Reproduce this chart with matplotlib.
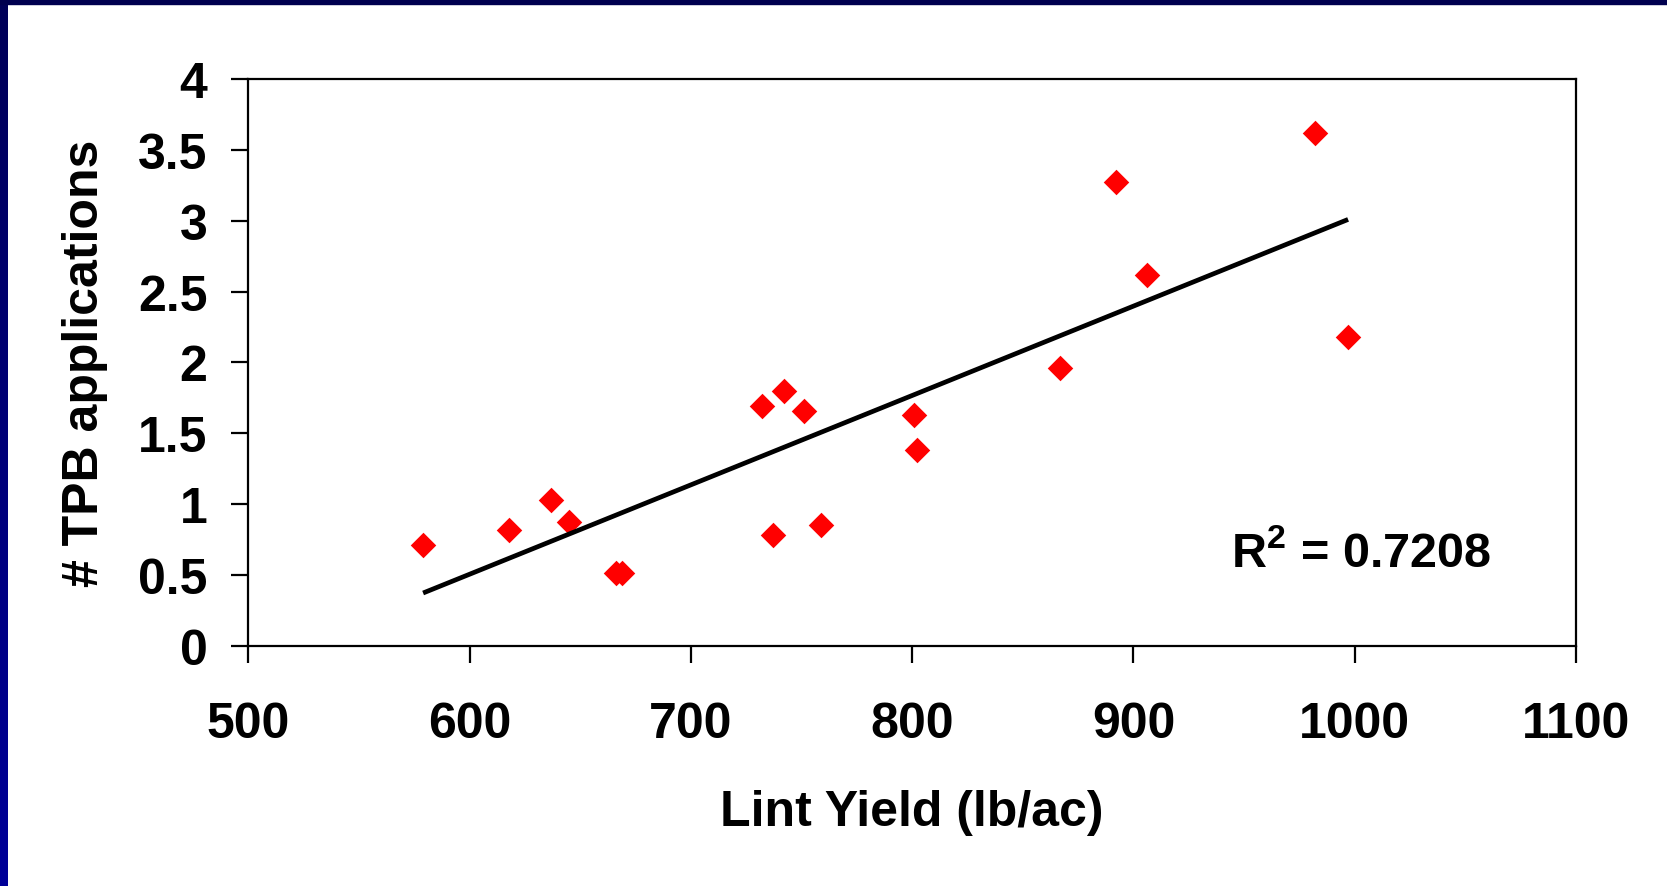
import numpy as np
import matplotlib
matplotlib.use('Agg')
import matplotlib.pyplot as plt
from matplotlib.colors import LinearSegmentedColormap

plt.rcParams['font.family'] = ['Liberation Sans', 'DejaVu Sans']
plt.rcParams['font.weight'] = 'bold'
plt.rcParams['mathtext.fontset'] = 'custom'
plt.rcParams['mathtext.rm'] = 'Liberation Sans:bold'
plt.rcParams['mathtext.bf'] = 'Liberation Sans:bold'

# data
lint_yield = [579, 618, 637, 645, 666, 669, 732, 737, 742, 751,
              759, 801, 802, 867, 892, 906, 982, 997]
tpb_apps = [0.71, 0.82, 1.03, 0.87, 0.51, 0.51, 1.69, 0.78, 1.80, 1.66,
            0.85, 1.63, 1.38, 1.96, 3.27, 2.62, 3.62, 2.18]
x_ticks = [500, 600, 700, 800, 900, 1000, 1100]
y_ticks = [0, 0.5, 1, 1.5, 2, 2.5, 3, 3.5, 4]
y_tick_labels = ['0', '0.5', '1', '1.5', '2', '2.5', '3', '3.5', '4']
r2_text = 'R$^{2}$ = 0.7208'

W, H = 1667, 887
fig = plt.figure(figsize=(W / 100, H / 100), dpi=100)
fig.patch.set_facecolor('white')

# navy slide frame (top strip + left strip)
fig.patches.append(plt.Rectangle((0, 1 - 5 / H), 1, 5 / H, transform=fig.transFigure,
                                 color='#00004f', zorder=0))
side = fig.add_axes([0, 0, 7 / W, 1 - 5 / H])
cmap = LinearSegmentedColormap.from_list('frame', ['#000058', '#000099'])
side.imshow(np.linspace(0, 1, 256).reshape(-1, 1), aspect='auto', cmap=cmap)
side.axis('off')

ax = fig.add_axes([248.3 / W, 1 - 646.7 / H, (1576 - 248.3) / W, (646.7 - 80) / H])

x = np.array(lint_yield, dtype=float)
y = np.array(tpb_apps, dtype=float)
ax.scatter(x, y, marker='D', s=13 ** 2, color='#ff0000', linewidths=0, zorder=2)

# linear trendline over the data range
slope, intercept = np.polyfit(x, y, 1)
xs = np.array([x.min(), x.max()])
ax.plot(xs, slope * xs + intercept, color='black', lw=3.4, zorder=3, solid_capstyle='butt')

ax.text(944, 0.555, r2_text, fontsize=35, fontweight='bold', ha='left', va='baseline')

ax.set_xlim(500, 1100)
ax.set_ylim(0, 4)
ax.set_xticks(x_ticks)
ax.set_yticks(y_ticks)
ax.set_yticklabels(y_tick_labels)
for s in ax.spines.values():
    s.set_linewidth(1.6)
ax.tick_params(axis='both', direction='out', length=12.5, width=1.6, labelsize=36)
ax.tick_params(axis='x', pad=27)
ax.tick_params(axis='y', pad=17)
for lab in ax.get_xticklabels() + ax.get_yticklabels():
    lab.set_fontweight('bold')

ax.set_xlabel('Lint Yield (lb/ac)', fontsize=36, fontweight='bold')
ax.set_ylabel('# TPB applications', fontsize=36, fontweight='bold')
ax.xaxis.set_label_coords(0.5, (646.7 - 813) / (646.7 - 80))
ax.xaxis.label.set_va('center')
ax.yaxis.set_label_coords((85 - 248.3) / (1576 - 248.3), 0.5)
ax.yaxis.label.set_va('center')

fig.savefig('out.png', dpi=100)
